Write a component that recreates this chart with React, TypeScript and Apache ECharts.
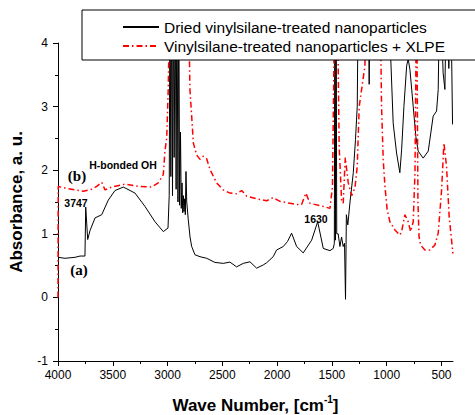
import React, { useEffect, useRef } from "react";
import * as echarts from "echarts";

// Wavenumber (cm^-1) and absorbance for curve (a): dried vinylsilane-treated nanoparticles
const blackWn = [4000, 3936, 3845, 3799, 3754, 3747, 3729, 3708, 3662, 3601, 3541, 3480, 3404, 3297, 3206, 3115, 3039, 2996, 2985, 2978, 2970, 2962, 2955, 2948, 2940, 2930, 2922, 2915, 2905, 2898, 2890, 2882, 2875, 2868, 2862, 2856, 2850, 2844, 2838, 2832, 2825, 2811, 2795, 2780, 2750, 2704, 2643, 2568, 2492, 2431, 2370, 2309, 2248, 2187, 2127, 2096, 2036, 2005, 1944, 1905, 1868, 1822, 1762, 1685, 1630, 1579, 1518, 1488, 1478, 1473, 1468, 1462, 1456, 1443, 1427, 1412, 1397, 1385, 1376, 1368, 1355, 1335, 1305, 1285, 1269, 1258, 1170, 1160, 1150, 990, 941, 910, 880, 864, 843, 818, 804, 788, 758, 734, 713, 667, 621, 576, 545, 530, 515, 485, 469, 453, 433, 417, 399];
const blackA = [0.63, 0.615, 0.63, 0.65, 0.65, 1.42, 0.91, 1.05, 1.25, 1.3, 1.53, 1.68, 1.735, 1.64, 1.43, 1.19, 1.035, 1.09, 1.6, 5, 1.9, 5, 1.6, 5, 2.2, 5, 1.7, 5, 1.5, 5, 1.45, 2.6, 1.4, 1.8, 1.33, 1.6, 1.35, 1.55, 1.3, 1.98, 1.5, 1.22, 0.95, 0.8, 0.67, 0.64, 0.615, 0.55, 0.535, 0.555, 0.48, 0.535, 0.56, 0.46, 0.51, 0.545, 0.64, 0.745, 0.8, 0.88, 1.01, 0.8, 0.7, 0.9, 1.19, 0.77, 0.735, 0.77, 0.85, 5, 0.9, 5, 1.0, 1.0, 0.8, 0.95, 0.8, 0.85, -0.03, 1.3, 1.14, 1.5, 1.96, 2.48, 3.0, 5, 5, 3.35, 5, 5, 2.74, 2.27, 1.96, 2.32, 3.0, 3.64, 3.75, 3.58, 3.0, 2.53, 2.3, 2.19, 2.3, 2.85, 2.93, 3.27, 5, 3.53, 3.27, 5, 3.6, 5, 2.72];

// Curve (b): vinylsilane-treated nanoparticles + XLPE
const redWn = [4000, 3998, 3936, 3845, 3769, 3693, 3647, 3601, 3571, 3510, 3389, 3267, 3145, 3085, 3039, 3024, 3008, 2994, 2978, 2811, 2796, 2780, 2765, 2735, 2704, 2674, 2643, 2613, 2552, 2492, 2431, 2370, 2324, 2278, 2187, 2096, 2036, 1974, 1883, 1822, 1777, 1737, 1701, 1579, 1518, 1495, 1473, 1452, 1434, 1412, 1397, 1378, 1351, 1342, 1320, 1290, 1269, 1251, 1229, 1199, 1183, 1062, 1047, 1032, 1016, 996, 971, 925, 880, 864, 834, 804, 782, 758, 742, 727, 715, 705, 691, 652, 606, 560, 530, 499, 478, 454, 430, 408, 396];
const redA = [0, 1.745, 1.72, 1.69, 1.67, 1.7, 1.745, 1.81, 1.69, 1.735, 1.78, 1.745, 1.735, 1.8, 1.93, 2.3, 2.5, 3.27, 5, 5, 3.27, 2.85, 2.43, 2.24, 2.17, 2.22, 2.18, 2.01, 1.8, 1.69, 1.64, 1.63, 1.68, 1.59, 1.55, 1.52, 1.57, 1.51, 1.48, 1.46, 1.46, 1.64, 1.48, 1.43, 1.4, 1.74, 5, 5, 2.38, 1.53, 1.48, 2.2, 1.8, 1.745, 1.6, 1.72, 2.06, 3.0, 3.27, 3.64, 5, 5, 3.0, 2.17, 1.745, 1.38, 1.19, 1.06, 0.98, 1.035, 1.3, 1.19, 1.035, 1.19, 1.96, 5, 1.5, 0.95, 0.825, 0.745, 0.745, 0.825, 1.01, 1.69, 2.43, 2.06, 1.27, 0.9, 0.69];

const seriesNames = ["Dried vinylsilane-treated nanoparticles", "Vinylsilane-treated nanoparticles + XLPE"];
const xMajorTicks = [4000, 3500, 3000, 2500, 2000, 1500, 1000, 500];
const xMinorTicks = [3750, 3250, 2750, 2250, 1750, 1250, 750];

const pair = (xs: number[], ys: number[]) => xs.map((x, i) => [x, ys[i]]);

export default function App() {
  const ref = useRef<HTMLDivElement>(null);
  useEffect(() => {
    const chart = echarts.init(ref.current!, null, { renderer: "svg" });
    const sans = "'Liberation Sans', Arial, sans-serif";
    const serif = "'Liberation Serif', 'Times New Roman', serif";
    chart.setOption({
      animation: false,
      backgroundColor: "#ffffff",
      grid: { left: 58, right: 22, top: 43, bottom: 54, outerBoundsMode: "none", containLabel: false },
      legend: {
        orient: "vertical",
        left: 82,
        top: 10,
        padding: [9, 40, 6, 40],
        itemWidth: 36,
        itemHeight: 14,
        itemGap: 3,
        backgroundColor: "#ffffff",
        borderColor: "#000000",
        borderWidth: 1,
        selectedMode: false,
        itemStyle: { opacity: 0 },
        textStyle: { fontSize: 15.5, color: "#000", fontFamily: sans },
        data: seriesNames,
      },
      xAxis: [
        {
          type: "value",
          min: 395,
          max: 4000,
          inverse: true,
          name: "{b|Wave Number, [cm}{s|-1}{b|]}",
          nameLocation: "middle",
          nameGap: 33,
          nameTextStyle: {
            rich: {
              b: { fontSize: 17, fontWeight: "bold", fontFamily: sans, color: "#000", lineHeight: 20, verticalAlign: "bottom" },
              s: { fontSize: 10, fontWeight: "bold", fontFamily: sans, color: "#000", verticalAlign: "top", lineHeight: 20 },
            },
          },
          axisLine: { show: true, onZero: false, lineStyle: { color: "#000", width: 1 } },
          axisTick: { show: true, customValues: xMajorTicks, length: 5, lineStyle: { color: "#000" } },
          axisLabel: { customValues: xMajorTicks, color: "#000", fontSize: 12, margin: 8, fontFamily: sans, formatter: (v: number) => String(v) },
          splitLine: { show: false },
        },
        {
          type: "value",
          min: 395,
          max: 4000,
          inverse: true,
          position: "bottom",
          offset: 0,
          axisLine: { show: false, onZero: false },
          axisTick: { show: true, customValues: xMinorTicks, length: 3, lineStyle: { color: "#000" } },
          axisLabel: { show: false },
          splitLine: { show: false },
        },
      ],
      yAxis: {
        type: "value",
        min: -1,
        max: 4,
        interval: 1,
        name: "Absorbance, a. u.",
        nameLocation: "middle",
        nameGap: 33,
        nameTextStyle: { fontSize: 17, fontWeight: "bold", fontFamily: sans, color: "#000" },
        axisLine: { show: true, onZero: false, lineStyle: { color: "#000", width: 1 } },
        axisTick: { show: true, length: 5, lineStyle: { color: "#000" } },
        minorTick: { show: true, splitNumber: 2, length: 3, lineStyle: { color: "#000" } },
        axisLabel: { color: "#000", fontSize: 12, margin: 10, fontFamily: sans },
        splitLine: { show: false },
      },
      series: [
        {
          type: "line",
          name: seriesNames[0],
          data: pair(blackWn, blackA),
          symbol: "none",
          showSymbol: false,
          lineStyle: { color: "#000", width: 1 },
          itemStyle: { color: "#000" },
        },
        {
          type: "line",
          name: seriesNames[1],
          data: pair(redWn, redA),
          symbol: "none",
          showSymbol: false,
          lineStyle: { color: "#ff0000", width: 1.5, type: [6, 3, 1.5, 3] },
          itemStyle: { color: "#ff0000" },
        },
      ],
      graphic: [
        { type: "text", x: 77, y: 176, style: { text: "(b)", fontSize: 15, fontWeight: "bold", fontFamily: serif, fill: "#000", align: "center", verticalAlign: "middle" } },
        { type: "text", x: 79, y: 270, style: { text: "(a)", fontSize: 15, fontWeight: "bold", fontFamily: serif, fill: "#000", align: "center", verticalAlign: "middle" } },
        { type: "text", x: 123, y: 165, style: { text: "H-bonded OH", fontSize: 10.5, fontWeight: "bold", fontFamily: sans, fill: "#000", align: "center", verticalAlign: "middle" } },
        { type: "text", x: 76, y: 203, style: { text: "3747", fontSize: 10.5, fontWeight: "bold", fontFamily: sans, fill: "#000", align: "center", verticalAlign: "middle" } },
        { type: "text", x: 316, y: 219, style: { text: "1630", fontSize: 10.5, fontWeight: "bold", fontFamily: sans, fill: "#000", align: "center", verticalAlign: "middle" } },
      ],
    });
    return () => chart.dispose();
  }, []);
  return <div ref={ref} style={{ position: "absolute", left: 0, top: 0, width: 475, height: 415 }} />;
}
